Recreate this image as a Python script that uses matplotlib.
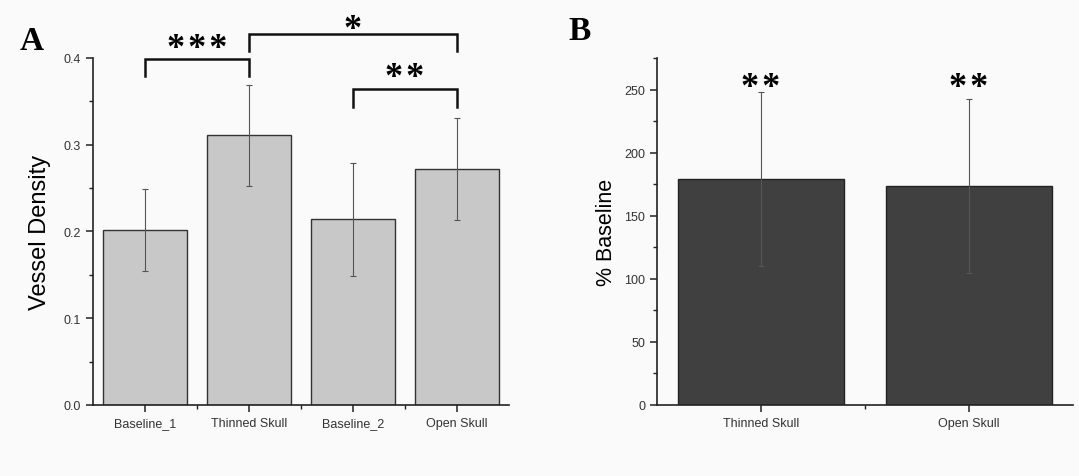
import matplotlib
matplotlib.use("Agg")
import matplotlib.pyplot as plt
from matplotlib.ticker import MultipleLocator, FixedLocator

# Panel A data
cats_a = ["Baseline_1", "Thinned Skull", "Baseline_2", "Open Skull"]
density = [0.202, 0.311, 0.214, 0.272]
density_err = [0.047, 0.058, 0.065, 0.059]

# Panel B data
cats_b = ["Thinned Skull", "Open Skull"]
pct_baseline = [179, 173.5]
pct_err = [69, 69]

BG = "#fafafa"
HS = "\u200a"
fig = plt.figure(figsize=(10.79, 4.77), dpi=100, facecolor=BG)

def style_axes(ax):
    ax.set_facecolor(BG)
    for s in ["top", "right"]:
        ax.spines[s].set_visible(False)
    for s in ["left", "bottom"]:
        ax.spines[s].set_color("#222222")
        ax.spines[s].set_linewidth(1.2)
    ax.tick_params(axis="both", which="major", direction="out", length=5, width=1.1,
                   colors="#222222", labelsize=9, labelcolor="#333333")
    ax.tick_params(axis="both", which="minor", direction="out", length=3, width=1.0,
                   colors="#222222")
    for lab in ax.get_xticklabels() + ax.get_yticklabels():
        lab.set_family("Liberation Sans")

STAR_KW = dict(ha="center", va="center", fontsize=26, fontweight="bold",
               family="Liberation Serif")

# ---------- Panel A ----------
axA = fig.add_axes([93/1079, 71/477, 416/1079, 347/477])
xa = list(range(len(cats_a)))
axA.bar(xa, density, width=0.8, color="#c8c8c8", edgecolor="#333333", linewidth=1.0, zorder=2)
axA.errorbar(xa, density, yerr=density_err, fmt="none", ecolor="#555555",
             elinewidth=0.8, capsize=2.5, capthick=0.8, zorder=3)
axA.set_xlim(-0.5, 3.5)
axA.set_ylim(0, 0.4)
axA.yaxis.set_major_locator(MultipleLocator(0.1))
axA.yaxis.set_minor_locator(MultipleLocator(0.05))
axA.set_xticks(xa)
axA.set_xticklabels(cats_a)
axA.xaxis.set_minor_locator(FixedLocator([0.5, 1.5, 2.5]))
axA.yaxis.set_major_formatter(matplotlib.ticker.FormatStrFormatter("%.1f"))
axA.set_ylabel("Vessel Density", fontsize=17, family="Liberation Sans", labelpad=9)
style_axes(axA)

def bracket(ax, x1, x2, ytop, ybot, label, ylab):
    ax.plot([x1, x1, x2, x2], [ybot, ytop, ytop, ybot], color="#111111", lw=1.8,
            clip_on=False, solid_joinstyle="miter", zorder=4)
    ax.text((x1 + x2) / 2, ylab, label, clip_on=False, **STAR_KW)

bracket(axA, 0, 1, 0.3988, 0.379, HS.join("***"), 0.4104)
bracket(axA, 1, 3, 0.4277, 0.408, "*", 0.4325)
bracket(axA, 2, 3, 0.3648, 0.344, HS.join("**"), 0.377)

fig.text(20/1079, 1 - 42/477, "A", fontsize=24, fontweight="bold", family="Liberation Serif",
         ha="left", va="center")

# ---------- Panel B ----------
axB = fig.add_axes([657/1079, 71/477, 416/1079, 347/477])
xb = list(range(len(cats_b)))
axB.bar(xb, pct_baseline, width=0.8, color="#404040", edgecolor="#222222", linewidth=1.0, zorder=2)
axB.errorbar(xb, pct_baseline, yerr=pct_err, fmt="none", ecolor="#555555",
             elinewidth=0.8, capsize=2.5, capthick=0.8, zorder=3)
axB.set_xlim(-0.5, 1.5)
axB.set_ylim(0, 275)
axB.yaxis.set_major_locator(MultipleLocator(50))
axB.yaxis.set_minor_locator(MultipleLocator(25))
axB.set_xticks(xb)
axB.set_xticklabels(cats_b)
axB.xaxis.set_minor_locator(FixedLocator([0.5]))
axB.set_ylabel("% Baseline", fontsize=15.5, family="Liberation Sans", labelpad=5)
style_axes(axB)
for x in xb:
    axB.text(x, 252, HS.join("**"), **STAR_KW)

fig.text(568/1079, 1 - 32/477, "B", fontsize=24, fontweight="bold", family="Liberation Serif",
         ha="left", va="center")

fig.savefig("out.png", dpi=100, facecolor=BG)
